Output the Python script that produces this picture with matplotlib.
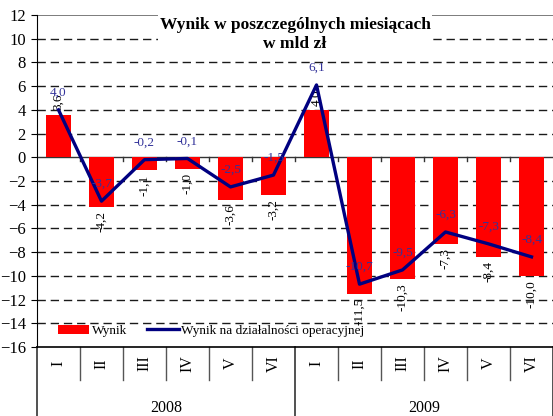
import matplotlib
matplotlib.use("Agg")
import matplotlib.pyplot as plt
import matplotlib.transforms as mtransforms
import numpy as np

plt.rcParams['font.family'] = ['Liberation Serif', 'DejaVu Serif']

months = ['I', 'II', 'III', 'IV', 'V', 'VI', 'I', 'II', 'III', 'IV', 'V', 'VI']
years = ['2008', '2009']
wynik = [3.6, -4.2, -1.1, -1.0, -3.6, -3.2, 4.0, -11.5, -10.3, -7.3, -8.4, -10.0]
wynik_oper = [4.0, -3.7, -0.2, -0.1, -2.5, -1.5, 6.1, -10.7, -9.5, -6.3, -7.3, -8.4]


def fmt(v):
    return f"{v:.1f}".replace('.', ',')


W, H = 553, 416
fig = plt.figure(figsize=(W / 100, H / 100), dpi=100)
ax = fig.add_axes([37 / W, (H - 347) / H, (W - 37) / W, (347 - 15) / H])

x = np.arange(len(months))
ax.set_xlim(-0.5, len(months) - 0.5)
ax.set_ylim(-16, 12)

# dashed grid
for gy in range(-14, 12, 2):
    if gy == 0:
        continue
    ax.axhline(gy, color='#1a1a1a', lw=1.0, dashes=(6, 3.5), zorder=0)
ax.axhline(12, color='#666666', lw=1.2, zorder=0)
ax.axhline(0, color='#333333', lw=1.0, zorder=1)
for b in np.arange(0.5, len(months) - 1, 1.0):
    ax.plot([b, b], [0, -0.35], color='#333333', lw=1.0, zorder=1)

bars = ax.bar(x, wynik, width=0.6, color='#ff0000', zorder=2, label='Wynik')
line, = ax.plot(x, wynik_oper, color='#000080', lw=2.4, zorder=4,
                label='Wynik na działalności operacyjnej')

for xi, v in zip(x, wynik):
    ax.annotate(fmt(v), (xi, v), xytext=(0, 3 if v > 0 else -3),
                textcoords='offset points', rotation=90, ha='center',
                va='bottom' if v > 0 else 'top', fontsize=9.5, color='black',
                zorder=3)

for xi, v in zip(x, wynik_oper):
    ax.annotate(fmt(v), (xi, v), xytext=(0, 8), textcoords='offset points',
                ha='center', va='bottom', fontsize=9.5, color='#33339a', zorder=5)

# axes styling
for s in ['top', 'right']:
    ax.spines[s].set_visible(False)
ax.spines['left'].set_color('black')
ax.spines['bottom'].set_color('black')
ax.spines['bottom'].set_linewidth(1.2)
ax.set_yticks(range(-16, 13, 2))
ax.tick_params(axis='y', direction='out', length=4, labelsize=12, pad=4)
ax.set_xticks([])

# category axis: months and years under the plot
trans = mtransforms.blended_transform_factory(ax.transData, ax.transAxes)
for b in np.arange(0.5, len(months) - 1, 1.0):
    if b == 5.5:
        continue
    ax.plot([b, b], [0, -0.1], transform=trans, color='#555555', lw=1.0,
            clip_on=False)
for b in [-0.5, 5.5, 11.5]:
    ax.plot([b, b], [0, -0.21], transform=trans, color='#333333', lw=1.2,
            clip_on=False)
for xi, m in zip(x, months):
    ax.text(xi, -0.05, m, transform=trans, rotation=90, ha='center',
            va='center', fontsize=11.5)
for i, yr in enumerate(years):
    ax.text(2.5 + 6 * i, -0.185, yr, transform=trans, ha='center',
            va='center', fontsize=11.5)

ax.text(0.5, 0.995, 'Wynik w poszczególnych miesiącach\nw mld zł',
        transform=ax.transAxes, ha='center', va='top', fontsize=12.5,
        fontweight='bold', linespacing=1.25, zorder=6,
        bbox=dict(facecolor='white', edgecolor='none', pad=1))

ax.legend(handles=[bars, line], loc='lower left', bbox_to_anchor=(0.03, 0.015),
          ncol=2, frameon=False, fontsize=9.5, handlelength=2.4,
          handletextpad=0.2, columnspacing=1.5, borderaxespad=0)

fig.savefig('out.png', dpi=100)
